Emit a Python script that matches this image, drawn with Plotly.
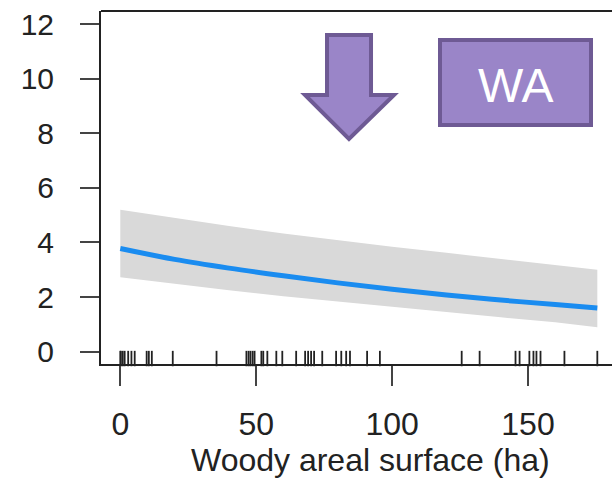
import plotly.graph_objects as go

# ---- data ----
x_grid = [0, 20, 40, 60, 80, 100, 120, 140, 160, 175.5]
fit = [3.78, 3.38, 3.06, 2.78, 2.52, 2.29, 2.08, 1.89, 1.73, 1.60]
upper = [5.20, 4.90, 4.60, 4.33, 4.08, 3.84, 3.62, 3.40, 3.19, 3.00]
lower = [2.73, 2.48, 2.25, 2.03, 1.83, 1.63, 1.45, 1.26, 1.08, 0.90]
rug_x = [0, 0.2, 0.9, 1.6, 2.9, 4.1, 5.3, 9.7, 10.5, 11.6, 19.3, 35.4,
         46.4, 47.2, 47.9, 48.7, 49.4, 51.9, 52.6, 54.1, 57.4, 59.6, 64.7,
         68.0, 69.1, 70.2, 71.3, 74.3, 79.4, 81.3, 83.1, 84.5, 90.8, 95.5,
         125.6, 132.2, 145.4, 146.9, 150.5, 152.0, 153.1, 154.6, 163.4, 175.5]
x_ticks = [0, 50, 100, 150]
y_ticks = [0, 2, 4, 6, 8, 10, 12]
x_title = "Woody areal surface (ha)"
label = "WA"

W, H = 612, 478
L, R, T, B = 101, 612, 11, 364  # plot area in px


def px(x):
    return (x - L) / (R - L)


def py(y):
    return 1 - (y - T) / (B - T)


FONT = "Liberation Sans, Arial, sans-serif"
fill_c = "#9A85C8"
edge_c = "#6E5A94"

fig = go.Figure()
fig.add_trace(go.Scatter(x=x_grid + x_grid[::-1], y=upper + lower[::-1],
                         fill="toself", fillcolor="#D9D9D9", line=dict(width=0),
                         mode="lines", hoverinfo="skip", showlegend=False))
fig.add_trace(go.Scatter(x=x_grid, y=fit, mode="lines",
                         line=dict(color="#1A8CF0", width=5, shape="spline"),
                         showlegend=False))
fig.add_trace(go.Scatter(x=rug_x, y=[-0.25] * len(rug_x), mode="markers",
                         marker=dict(symbol="line-ns", size=11,
                                     line=dict(color="#222222", width=1.8)),
                         cliponaxis=False, showlegend=False))

# arrow (pixel outline, inset for border)
pts = [(327, 35), (371, 35), (371, 95), (394, 95), (349, 139), (305, 95), (327, 95)]
path = "M " + " L ".join(f"{px(a):.4f},{py(b):.4f}" for a, b in pts) + " Z"
shapes = [
    dict(type="path", xref="paper", yref="paper", path=path,
         fillcolor=fill_c, line=dict(color=edge_c, width=4), layer="above"),
    dict(type="rect", xref="paper", yref="paper", x0=px(440), x1=px(591),
         y0=py(40), y1=py(125), fillcolor=fill_c,
         line=dict(color=edge_c, width=4), layer="above"),
    dict(type="line", xref="paper", yref="paper", x0=0, x1=1, y0=1, y1=1,
         line=dict(color="#222222", width=2)),
]

annotations = [
    dict(text=label, xref="paper", yref="paper", x=px(515.5), y=py(86),
         showarrow=False, font=dict(family=FONT, size=48, color="white"),
         xanchor="center", yanchor="middle"),
    dict(text=x_title, xref="paper", yref="paper", x=px(370), y=py(460),
         showarrow=False, font=dict(family=FONT, size=32, color="#222222"),
         xanchor="center", yanchor="middle"),
]

fig.update_layout(
    width=W, height=H,
    margin=dict(l=L, r=W - R, t=T, b=H - B, pad=0),
    paper_bgcolor="white", plot_bgcolor="white",
    shapes=shapes, annotations=annotations,
    font=dict(family=FONT, color="#222222"),
)
fig.update_xaxes(range=[-7.1, 180.9], tickvals=x_ticks, ticks="outside",
                 ticklen=20, tickwidth=2, tickcolor="#444444",
                 showline=True, linecolor="#222222", linewidth=2,
                 showgrid=False, zeroline=False,
                 tickfont=dict(family=FONT, size=32, color="#222222"),
                 ticklabelstandoff=11)
fig.update_yaxes(range=[-0.45, 12.476], tickvals=y_ticks, ticks="outside",
                 ticklen=19, tickwidth=2, tickcolor="#444444",
                 showline=True, linecolor="#222222", linewidth=2,
                 showgrid=False, zeroline=False,
                 tickfont=dict(family=FONT, size=30, color="#222222"),
                 ticklabelstandoff=20)

fig.write_html("out.html")
